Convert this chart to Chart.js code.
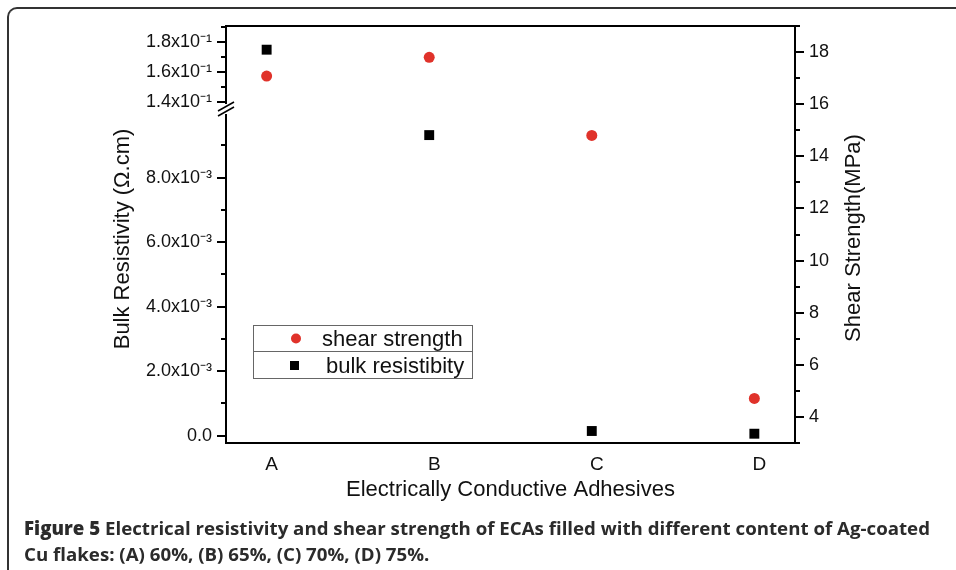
<!DOCTYPE html>
<html>
<head>
<meta charset="utf-8">
<script src="https://cdn.jsdelivr.net/npm/chart.js@4.4.0/dist/chart.umd.min.js"></script>
<style>
  html, body { margin: 0; padding: 0; background: #fff; }
  body { width: 956px; height: 570px; position: relative; overflow: hidden; }
  #frame { position: absolute; left: 7px; top: 7px; width: 1000px; height: 620px;
           border-top: 2px solid #333; border-left: 2px solid #333; border-top-left-radius: 10px; }
  #chart { position: absolute; left: 0; top: 0; }
  #caption { position: absolute; left: 24px; top: 515px; font-family: "Open Sans", sans-serif;
             font-weight: 700; font-size: 18.5px; line-height: 26px; color: #2b2b2b;
             white-space: nowrap; transform-origin: 0 0; }
  #caption b { font-weight: 800; }
  #caption div { display: inline-block; }
</style>
</head>
<body>
<div id="frame"></div>
<canvas id="chart" width="956" height="570"></canvas>
<div id="caption"><div id="line1"><b>Figure 5</b> Electrical resistivity and shear strength of ECAs filled with different content of Ag-coated</div><br><div>Cu flakes: (A) 60%, (B) 65%, (C) 70%, (D) 75%.</div></div>
<script>
const categories = ['A', 'B', 'C', 'D'];
const shearStrength = [17.08, 17.80, 14.80, 4.71];
const bulkResistivity = [0.1751, 0.00932, 0.000146, 0.000062];
const seriesNames = ['shear strength', 'bulk resistibity'];

// broken left axis: lower and upper segments
const lowerRange = [-0.000226, 0.01016];
const upperRange = [0.1362, 0.1909];
const shearRange = [3, 19];

const lowerTicks = [0, 0.001, 0.002, 0.003, 0.004, 0.005, 0.006, 0.007, 0.008, 0.009];
const lowerLabels = ['0.0', '', '2.0x10⁻³', '', '4.0x10⁻³', '', '6.0x10⁻³', '', '8.0x10⁻³', ''];
const upperTicks = [0.14, 0.15, 0.16, 0.17, 0.18, 0.19];
const upperLabels = ['1.4x10⁻¹', '', '1.6x10⁻¹', '', '1.8x10⁻¹', ''];
const shearTicks = [3, 4, 5, 6, 7, 8, 9, 10, 11, 12, 13, 14, 15, 16, 17, 18, 19];
const shearLabels = ['', '4', '', '6', '', '8', '', '10', '', '12', '', '14', '', '16', '', '18', ''];

const FONT = '"Liberation Sans", Arial, sans-serif';
Chart.defaults.font.family = FONT;
Chart.defaults.color = '#111';

const red = '#e0322a';

function setTicks(values) {
    return (scale) => { scale.ticks = values.map((v) => ({ value: v })); };
}

function yAxis(range, values, labels, extra) {
    return Object.assign({
        type: 'linear',
        min: range[0],
        max: range[1],
        afterBuildTicks: setTicks(values),
        ticks: {
            autoSkip: false,
            padding: 14,
            font: { size: 18 },
            callback: (v, i) => labels[i],
        },
        grid: { display: false, drawTicks: false },
        border: { display: true, color: '#000', width: 2 },
    }, extra);
}

const bulkLow = bulkResistivity.map((v, i) => ({ x: i, y: v })).filter((p) => p.y < lowerRange[1]);
const bulkHigh = bulkResistivity.map((v, i) => ({ x: i, y: v })).filter((p) => p.y > upperRange[0]);

const decor = {
    id: 'decor',
    afterDraw(chart) {
        const { ctx, chartArea: a, scales } = chart;
        const line = (x1, y1, x2, y2) => {
            ctx.beginPath(); ctx.moveTo(x1, y1); ctx.lineTo(x2, y2); ctx.stroke();
        };
        ctx.save();
        ctx.strokeStyle = '#000';
        ctx.lineWidth = 2;
        // top frame
        line(a.left - 1, a.top, a.right + 1, a.top);
        // outward ticks, major longer than minor
        [scales.yLow, scales.yHigh].forEach((s) => {
            s.ticks.forEach((t) => {
                const y = Math.round(s.getPixelForValue(t.value));
                line(a.left - (t.label ? 9 : 5), y, a.left, y);
            });
        });
        scales.yShear.ticks.forEach((t) => {
            const y = Math.round(scales.yShear.getPixelForValue(t.value));
            line(a.right, y, a.right + (t.label ? 9 : 5), y);
        });
        // axis break
        const yb = scales.yHigh.bottom;
        ctx.fillStyle = '#fff';
        ctx.fillRect(a.left - 4, yb - 4, 8, 10);
        ctx.lineWidth = 1.5;
        line(a.left - 8, yb + 3, a.left + 8, yb - 6);
        line(a.left - 8, yb + 8, a.left + 8, yb - 1);

        // y titles, reading bottom to top
        ctx.fillStyle = '#111';
        ctx.font = '22px ' + FONT;
        ctx.textAlign = 'center';
        ctx.textBaseline = 'middle';
        ctx.save();
        ctx.translate(123, 239);
        ctx.rotate(-Math.PI / 2);
        ctx.fillText('Bulk Resistivity (Ω.cm)', 0, 0);
        ctx.restore();
        ctx.save();
        ctx.translate(854, 238);
        ctx.rotate(-Math.PI / 2);
        ctx.fillText('Shear Strength(MPa)', 0, 0);
        ctx.restore();

        // legend
        ctx.strokeStyle = '#666';
        ctx.lineWidth = 1;
        ctx.strokeRect(253.5, 325.5, 219, 53);
        line(253.5, 351.5, 472.5, 351.5);
        ctx.fillStyle = red;
        ctx.beginPath(); ctx.arc(296, 338.5, 5, 0, Math.PI * 2); ctx.fill();
        ctx.fillStyle = '#000';
        ctx.fillRect(290, 361, 9, 9);
        ctx.fillStyle = '#111';
        ctx.textAlign = 'left';
        ctx.textBaseline = 'alphabetic';
        ctx.fillText(seriesNames[0], 322, 346);
        ctx.fillText(seriesNames[1], 326, 373);
        ctx.restore();
    },
};

new Chart(document.getElementById('chart').getContext('2d'), {
    type: 'scatter',
    data: {
        datasets: [
            {
                label: seriesNames[0],
                data: shearStrength.map((v, i) => ({ x: i, y: v })),
                yAxisID: 'yShear',
                pointStyle: 'circle',
                pointRadius: 5.5,
                borderWidth: 0,
                backgroundColor: red,
                borderColor: red,
            },
            {
                label: seriesNames[1],
                data: bulkLow,
                yAxisID: 'yLow',
                pointStyle: 'rect',
                pointRadius: 7,
                borderWidth: 0,
                backgroundColor: '#000',
                borderColor: '#000',
            },
            {
                label: seriesNames[1],
                data: bulkHigh,
                yAxisID: 'yHigh',
                pointStyle: 'rect',
                pointRadius: 7,
                borderWidth: 0,
                backgroundColor: '#000',
                borderColor: '#000',
            },
        ],
    },
    options: {
        responsive: false,
        animation: false,
        layout: { padding: { left: 0, top: 26, right: 89, bottom: 67 } },
        plugins: { legend: { display: false }, tooltip: { enabled: false } },
        scales: {
            x: {
                type: 'linear',
                min: -0.25,
                max: 3.25,
                afterBuildTicks: setTicks(categories.map((c, i) => i)),
                ticks: {
                    autoSkip: false,
                    maxRotation: 0,
                    padding: 10,
                    labelOffset: 5,
                    font: { size: 19 },
                    callback: (v) => categories[v],
                },
                grid: { display: false, drawTicks: false },
                border: { display: true, color: '#000', width: 2 },
                title: {
                    display: true,
                    text: 'Electrically Conductive Adhesives',
                    font: { size: 22 },
                    color: '#111',
                    padding: 0,
                },
                afterFit: (s) => { s.height = 60; },
            },
            yLow: yAxis(lowerRange, lowerTicks, lowerLabels, {
                position: 'left', stack: 'left', stackWeight: 335,
                afterFit: (s) => { s.width = 226; },
            }),
            yHigh: yAxis(upperRange, upperTicks, upperLabels, {
                position: 'left', stack: 'left', stackWeight: 82,
                afterFit: (s) => { s.width = 226; },
            }),
            yShear: yAxis(shearRange, shearTicks, shearLabels, {
                position: 'right',
                afterFit: (s) => { s.width = 72; },
            }),
        },
    },
    plugins: [decor],
});

// fit caption first line to the figure width
const cap = document.getElementById('caption');
const w = document.getElementById('line1').getBoundingClientRect().width;
cap.style.transform = 'scaleX(' + (906 / w) + ')';
</script>
</body>
</html>
